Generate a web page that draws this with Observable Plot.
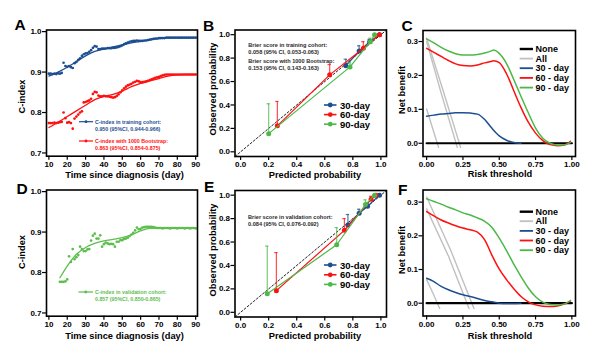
<!DOCTYPE html>
<html><head><meta charset="utf-8">
<script src="https://cdn.jsdelivr.net/npm/d3@7"></script>
<script src="https://cdn.jsdelivr.net/npm/@observablehq/plot@0.6"></script>
<style>
body{margin:0;background:#fff;}
#root{position:relative;width:589px;height:352px;overflow:hidden;background:#fff;}
</style></head><body><div id="root"></div>
<script>
// ---------------- DATA ----------------
const trainDays = [10,11,12,13,14,15,16,17,18,19,20,21,22,23,24,25,26,27,28,29,30,31,32,33,34,35,36,37,38,39,40,41,42,43,44,45,46,47,48,49,50,51,52,53,54,55,56,57,58,59,60,61,62,63,64,65,66,67,68,69,70,71,72,73,74,75,76,77,78,79,80,81,82,83,84,85,86,87,88,89,90];
const trainCindex = [0.896,0.896,0.895,0.896,0.895,0.897,0.896,0.898,0.923,0.915,0.913,0.915,0.912,0.910,0.922,0.925,0.930,0.934,0.940,0.944,0.946,0.947,0.950,0.954,0.960,0.964,0.963,0.957,0.957,0.958,0.958,0.958,0.959,0.959,0.959,0.960,0.960,0.961,0.962,0.964,0.966,0.969,0.971,0.973,0.975,0.976,0.977,0.977,0.978,0.977,0.977,0.977,0.978,0.978,0.979,0.980,0.981,0.982,0.983,0.983,0.984,0.984,0.984,0.984,0.985,0.985,0.985,0.985,0.985,0.985,0.985,0.985,0.985,0.985,0.985,0.985,0.985,0.985,0.985,0.985,0.985];
const bootCindex = [0.774,0.774,0.774,0.775,0.774,0.775,0.776,0.777,0.800,0.786,0.775,0.776,0.774,0.760,0.785,0.790,0.795,0.800,0.803,0.825,0.826,0.828,0.830,0.834,0.846,0.851,0.850,0.842,0.840,0.840,0.841,0.840,0.840,0.839,0.838,0.837,0.838,0.841,0.845,0.850,0.855,0.860,0.864,0.867,0.869,0.871,0.874,0.876,0.878,0.877,0.875,0.875,0.876,0.877,0.878,0.880,0.882,0.884,0.886,0.887,0.888,0.890,0.892,0.893,0.894,0.894,0.894,0.894,0.894,0.894,0.894,0.894,0.894,0.894,0.894,0.894,0.894,0.894,0.894,0.894,0.894];
const smoothDays = [10,15,20,25,30,35,40,45,50,55,60,65,70,75,80,85,90];
const trainSmooth = [0.890,0.900,0.912,0.926,0.940,0.951,0.957,0.962,0.967,0.972,0.976,0.980,0.983,0.985,0.985,0.985,0.985];
const bootSmooth = [0.763,0.776,0.790,0.804,0.818,0.832,0.840,0.845,0.853,0.864,0.872,0.878,0.884,0.890,0.893,0.894,0.894];

const valDays = [16,17,18,19,20,21,22,23,24,25,26,27,28,29,30,31,32,33,34,35,36,37,38,39,40,41,42,43,44,45,46,47,48,49,50,51,52,53,54,55,56,57,58,59,60,61,62,63,64,65,66,67,68,69,70,71,72,73,74,75,76,77,78,79,80,81,82,83,84,85,86,87,88,89,90];
const valCindex = [0.777,0.777,0.777,0.778,0.783,0.840,0.826,0.858,0.833,0.838,0.843,0.864,0.858,0.853,0.853,0.857,0.858,0.879,0.891,0.896,0.884,0.884,0.892,0.864,0.870,0.874,0.872,0.870,0.871,0.870,0.864,0.876,0.876,0.880,0.880,0.883,0.884,0.886,0.890,0.894,0.898,0.904,0.911,0.907,0.908,0.911,0.912,0.913,0.913,0.913,0.913,0.912,0.911,0.910,0.910,0.910,0.909,0.910,0.910,0.910,0.909,0.910,0.910,0.910,0.909,0.910,0.910,0.910,0.909,0.910,0.910,0.909,0.910,0.910,0.909];
const valSmoothDays = [16,20,25,30,35,40,45,50,55,60,65,70,80,90];
const valSmooth = [0.787,0.816,0.845,0.862,0.872,0.878,0.882,0.886,0.893,0.903,0.909,0.910,0.910,0.910];

const groups = ["30-day","60-day","90-day"];
// training calibration
const trPred30 = [0.75,0.845,0.92,0.99],  trObs30 = [0.735,0.86,0.94,1.0],  trUp30 = [0.79,0.905,0.96,1.0];
const trPred60 = [0.262,0.635,0.875,0.99], trObs60 = [0.222,0.657,0.885,1.0], trUp60 = [0.43,0.745,0.94,1.0];
const trPred90 = [0.20,0.78,0.925,0.955],  trObs90 = [0.155,0.725,0.94,1.0], trUp90 = [0.41,0.76,0.97,1.0];
// validation calibration
const vaPred30 = [0.765,0.845,0.905,0.99], vaObs30 = [0.745,0.845,0.905,1.0], vaUp30 = [0.835,0.88,0.93,1.0];
const vaPred60 = [0.255,0.74,0.93,0.965],  vaObs60 = [0.185,0.70,0.965,1.0], vaUp60 = [0.51,0.80,0.99,1.0];
const vaPred90 = [0.19,0.685,0.89,0.955],  vaObs90 = [0.158,0.577,0.92,1.0], vaUp90 = [0.565,0.723,0.96,1.0];
const diagonal = [-0.04, 1.04];

// decision curves, training (C)
const thrC30 = [0,0.05,0.1,0.15,0.2,0.25,0.3,0.35,0.4,0.45,0.5,0.55,0.6,0.65];
const nbC30 = [0.080,0.083,0.086,0.088,0.090,0.090,0.089,0.086,0.070,0.044,0.022,0.009,0.002,0.0];
const thrC = [0,0.05,0.1,0.15,0.2,0.25,0.3,0.35,0.4,0.45,0.46,0.5,0.55,0.6,0.65,0.7,0.75,0.8,0.85,0.9,0.95,0.99];
const nbC60 = [0.280,0.268,0.256,0.244,0.234,0.229,0.228,0.231,0.237,0.242,0.243,0.238,0.205,0.155,0.105,0.062,0.030,0.008,-0.004,-0.007,-0.005,0.006];
const nbC90 = [0.308,0.296,0.283,0.272,0.264,0.260,0.260,0.262,0.266,0.273,0.275,0.265,0.235,0.188,0.138,0.090,0.045,0.015,0.000,-0.005,-0.004,0.002];
const allC1T = [0,0.04,0.082], allC1 = [0.101,0.046,-0.012];
const allC2T = [0,0.10,0.211], allC2 = [0.300,0.148,-0.012];
const allC3T = [0,0.11,0.234], allC3 = [0.310,0.160,-0.012];
// decision curves, validation (F)
const thrF30 = [0,0.05,0.1,0.15,0.2,0.25,0.3,0.35,0.4,0.45,0.5,0.55,0.6,0.65];
const nbF30 = [0.074,0.064,0.050,0.040,0.032,0.025,0.020,0.014,0.008,0.004,0.000,-0.001,-0.001,0.000];
const thrF = [0,0.05,0.1,0.15,0.2,0.25,0.3,0.35,0.4,0.45,0.5,0.55,0.6,0.65,0.7,0.75,0.8,0.85,0.9,0.95,0.99];
const nbF60 = [0.272,0.259,0.247,0.238,0.230,0.223,0.218,0.211,0.188,0.142,0.101,0.070,0.043,0.020,0.004,-0.005,-0.009,-0.010,-0.008,-0.002,0.006];
const nbF90 = [0.310,0.302,0.294,0.285,0.277,0.268,0.262,0.253,0.243,0.225,0.193,0.156,0.116,0.079,0.045,0.019,0.003,-0.004,-0.005,-0.002,0.008];
const allF1T = [0,0.045,0.09], allF1 = [0.070,0.028,-0.016];
const allF2T = [0,0.15,0.292], allF2 = [0.280,0.140,-0.016];
const allF3T = [0,0.165,0.326], allF3 = [0.315,0.158,-0.016];
const noneT = [0,1], noneNB = [0,0];

const dayTicks = [10,20,30,40,50,60,70,80,90];
const cTicks = [0.7,0.8,0.9,1.0];
const probTicks = [0,0.2,0.4,0.6,0.8,1.0];
const thrTicks = [0,0.25,0.5,0.75,1.0];
const nbTicks = [0,0.1,0.2,0.3];

// ---------------- STYLE ----------------
const FONT = "'Liberation Sans', Arial, Helvetica, sans-serif";
const BLUE = "#1C4E91", RED = "#FF1010", GREEN = "#4CB848", GREEN2 = "#5CBE4C", GRAY = "#C0C0C0";
const colorOf = {"30-day": BLUE, "60-day": RED, "90-day": GREEN};

const rows = (xs, ys) => xs.map((x, i) => ({x, y: ys[i]}));
const calRows = (g, p, o, u) => p.map((v, i) => ({g, p: v, o: o[i], u: u[i]}));

const root = document.getElementById("root");
function addPlot(frame, box, xDom, yDom, xTicks, xFmt, yTicks, yFmt, marks) {
  const p = Plot.plot({
    width: box.w, height: box.h,
    marginLeft: frame.l - box.x, marginTop: frame.t - box.y,
    marginRight: box.x + box.w - frame.r, marginBottom: box.y + box.h - frame.b,
    style: {fontFamily: FONT, fontWeight: "bold", fontSize: "8px", color: "black", background: "none", overflow: "visible"},
    x: {domain: xDom, axis: null, label: null},
    y: {domain: yDom, axis: null, label: null},
    marks: [
      ...marks,
      Plot.frame({stroke: "black", strokeWidth: 1.6}),
      Plot.axisX(xTicks, {tickSize: 4, tickPadding: 1, tickFormat: xFmt, label: null, fontSize: 8, fontWeight: "bold", strokeWidth: 1.2}),
      Plot.axisY(yTicks, {tickSize: 4, tickPadding: 1, tickFormat: yFmt, label: null, fontSize: 8, fontWeight: "bold", strokeWidth: 1.2})
    ]
  });
  p.style.position = "absolute";
  p.style.left = box.x + "px";
  p.style.top = box.y + "px";
  root.appendChild(p);
}
const f1 = d3.format(".1f"), f2 = d3.format(".2f"), f0 = d3.format("d");

// ---- Panel A ----
addPlot({l: 46, t: 29.5, r: 197, b: 155.7}, {x: 0, y: 0, w: 200, h: 172},
  [8.7, 91], [0.692, 1.004], dayTicks, f0, cTicks, f1, [
    Plot.dot(rows(trainDays, trainCindex), {x: "x", y: "y", r: 1.35, fill: BLUE}),
    Plot.line(rows(smoothDays, trainSmooth), {x: "x", y: "y", stroke: BLUE, strokeWidth: 1.3, curve: "monotone-x"}),
    Plot.dot(rows(trainDays, bootCindex), {x: "x", y: "y", r: 1.35, fill: RED}),
    Plot.line(rows(smoothDays, bootSmooth), {x: "x", y: "y", stroke: RED, strokeWidth: 1.3, curve: "monotone-x"})
  ]);

// ---- Panel D ----
addPlot({l: 46, t: 189.5, r: 197, b: 315.7}, {x: 0, y: 160, w: 200, h: 172},
  [8.7, 91], [0.692, 1.004], dayTicks, f0, cTicks, f1, [
    Plot.dot(rows(valDays, valCindex), {x: "x", y: "y", r: 1.35, fill: GREEN2}),
    Plot.line(rows(valSmoothDays, valSmooth), {x: "x", y: "y", stroke: GREEN2, strokeWidth: 1.3, curve: "monotone-x"})
  ]);

// ---- Calibration panels ----
function calMarks(sets) {
  const m = [Plot.line(rows(diagonal, diagonal), {x: "x", y: "y", stroke: "#222", strokeWidth: 1, strokeDasharray: "2,2"})];
  for (const s of sets) {
    const c = colorOf[s[0].g];
    m.push(Plot.ruleX(s, {x: "p", y1: "o", y2: "u", stroke: c, strokeOpacity: 0.75, strokeWidth: 1.2}));
    m.push(Plot.ruleY(s, {y: "u", x1: d => d.p - 0.012, x2: d => d.p + 0.012, stroke: c, strokeOpacity: 0.75, strokeWidth: 1.2}));
    m.push(Plot.line(s, {x: "p", y: "o", stroke: c, strokeWidth: 1.2}));
    m.push(Plot.dot(s, {x: "p", y: "o", fill: c, r: 2.5}));
  }
  return m;
}
addPlot({l: 234.5, t: 29.5, r: 386, b: 156}, {x: 195, y: 0, w: 195, h: 172},
  [-0.04, 1.04], [-0.04, 1.04], probTicks, f1, probTicks, f1,
  calMarks([calRows(groups[0], trPred30, trObs30, trUp30), calRows(groups[1], trPred60, trObs60, trUp60), calRows(groups[2], trPred90, trObs90, trUp90)]));
addPlot({l: 234.5, t: 190, r: 386, b: 316.5}, {x: 195, y: 160, w: 195, h: 172},
  [-0.04, 1.04], [-0.04, 1.04], probTicks, f1, probTicks, f1,
  calMarks([calRows(groups[0], vaPred30, vaObs30, vaUp30), calRows(groups[1], vaPred60, vaObs60, vaUp60), calRows(groups[2], vaPred90, vaObs90, vaUp90)]));

// ---- Decision curves ----
function dcaMarks(alls, c30, c60, c90) {
  return [
    ...alls.map(a => Plot.line(a, {x: "x", y: "y", stroke: GRAY, strokeWidth: 1.4})),
    Plot.line(rows(noneT, noneNB), {x: "x", y: "y", stroke: "black", strokeWidth: 2.2}),
    Plot.line(c30, {x: "x", y: "y", stroke: BLUE, strokeWidth: 1.5, curve: "monotone-x"}),
    Plot.line(c60, {x: "x", y: "y", stroke: RED, strokeWidth: 1.5, curve: "monotone-x"}),
    Plot.line(c90, {x: "x", y: "y", stroke: GREEN, strokeWidth: 1.5, curve: "monotone-x"})
  ];
}
addPlot({l: 422.5, t: 30, r: 575, b: 156}, {x: 390, y: 0, w: 199, h: 172},
  [-0.025, 1.025], [-0.039, 0.3325], thrTicks, f2, nbTicks, f1,
  dcaMarks([rows(allC1T, allC1), rows(allC2T, allC2), rows(allC3T, allC3)], rows(thrC30, nbC30), rows(thrC, nbC60), rows(thrC, nbC90)));
addPlot({l: 422.5, t: 189.5, r: 575, b: 315.5}, {x: 390, y: 160, w: 199, h: 172},
  [-0.025, 1.025], [-0.038, 0.336], thrTicks, f2, nbTicks, f1,
  dcaMarks([rows(allF1T, allF1), rows(allF2T, allF2), rows(allF3T, allF3)], rows(thrF30, nbF30), rows(thrF, nbF60), rows(thrF, nbF90)));

// ---------------- TEXT / LEGENDS OVERLAY ----------------
const ov = d3.select(root).append("svg").attr("width", 589).attr("height", 352)
  .style("position", "absolute").style("left", "0px").style("top", "0px")
  .style("font-family", FONT).style("font-weight", "bold");
function txt(x, y, s, size, o = {}) {
  const e = ov.append("text").attr("x", x).attr("y", y).attr("font-size", size)
    .attr("dominant-baseline", o.base || "central").attr("text-anchor", o.anchor || "start")
    .attr("fill", o.color || "black").text(s);
  if (o.rot) e.attr("transform", `rotate(-90 ${x} ${y})`);
}
// panel letters
[["A",14.5,30],["B",203,30.5],["C",401.5,30.5],["D",16.5,193.5],["E",204,192],["F",398,194.5]]
  .forEach(([s,x,y]) => txt(x, y, s, 15.5, {base: "alphabetic"}));
// axis titles
const AT = 9.3;
txt(124.5, 174.5, "Time since diagnosis (day)", AT, {anchor: "middle"});
txt(124.5, 335.5, "Time since diagnosis (day)", AT, {anchor: "middle"});
txt(21.5, 96.5, "C-index", AT, {anchor: "middle", rot: true});
txt(21.5, 252, "C-index", AT, {anchor: "middle", rot: true});
txt(315, 174.5, "Predicted probability", AT, {anchor: "middle"});
txt(315, 335.5, "Predicted probability", AT, {anchor: "middle"});
txt(213.3, 89, "Observed probability", AT, {anchor: "middle", rot: true});
txt(213.3, 250, "Observed probability", AT, {anchor: "middle", rot: true});
txt(500, 174, "Risk threshold", AT, {anchor: "middle"});
txt(500, 335.5, "Risk threshold", AT, {anchor: "middle"});
txt(401.7, 90, "Net benefit", AT, {anchor: "middle", rot: true});
txt(401.7, 250, "Net benefit", AT, {anchor: "middle", rot: true});

// A / D legends
function swatch(x1, x2, y, c, w, dot) {
  ov.append("line").attr("x1", x1).attr("x2", x2).attr("y1", y).attr("y2", y).attr("stroke", c).attr("stroke-width", w);
  if (dot) ov.append("circle").attr("cx", (x1 + x2) / 2).attr("cy", y).attr("r", dot).attr("fill", c);
}
const SM = 5.3;
swatch(79, 93, 121.7, BLUE, 1.2, 1.4);
txt(95, 121.7, "C-index in training cohort:", SM, {color: BLUE});
txt(95, 128.8, "0.950 (95%CI, 0.944-0.966)", SM, {color: BLUE});
swatch(79, 93, 141, RED, 1.2, 1.4);
txt(95, 141, "C-index with 1000 Bootstrap:", SM, {color: RED});
txt(95, 147.8, "0.863 (95%CI, 0.854-0.875)", SM, {color: RED});
swatch(78.5, 93, 292, GREEN2, 1.2, 1.4);
txt(95, 292, "C-index in validation cohort:", SM, {color: GREEN2});
txt(95, 298.5, "0.857 (95%CI, 0.850-0.865)", SM, {color: GREEN2});

// B / E annotations
const BT = 5.6, BC = "#2a2a2a";
txt(248.3, 45, "Brier score in training cohort:", BT, {color: BC});
txt(248.3, 51.8, "0.058 (95% CI, 0.053-0.063)", BT, {color: BC});
txt(248.3, 61.2, "Brier score  with 1000 Bootstrap:", BT, {color: BC});
txt(248.3, 68.2, "0.153 (95% CI, 0.143-0.163)", BT, {color: BC});
txt(248, 216.8, "Brier score in validation cohort:", BT, {color: BC});
txt(248, 223.5, "0.084 (95% CI, 0.076-0.092)", BT, {color: BC});
// B / E legends
[[105, 114.6, 124.2], [265, 274.8, 284.4]].forEach(ys => {
  groups.forEach((g, i) => {
    swatch(324, 336.5, ys[i], colorOf[g], 1.6, 2.4);
    txt(340, ys[i], g, 9.5);
  });
});
// C / F legends
const dcaLabels = ["None", "All", "30 - day", "60 - day", "90 - day"];
const dcaColors = ["black", GRAY, BLUE, RED, GREEN];
[[49, 58.6, 68.2, 77.9, 87.6], [211.7, 221.2, 230.9, 240.5, 250.2]].forEach(ys => {
  dcaLabels.forEach((s, i) => {
    swatch(519.7, 533, ys[i], dcaColors[i], i === 0 ? 2.4 : 1.8, 0);
    txt(535.5, ys[i], s, 9);
  });
});
</script></body></html>
